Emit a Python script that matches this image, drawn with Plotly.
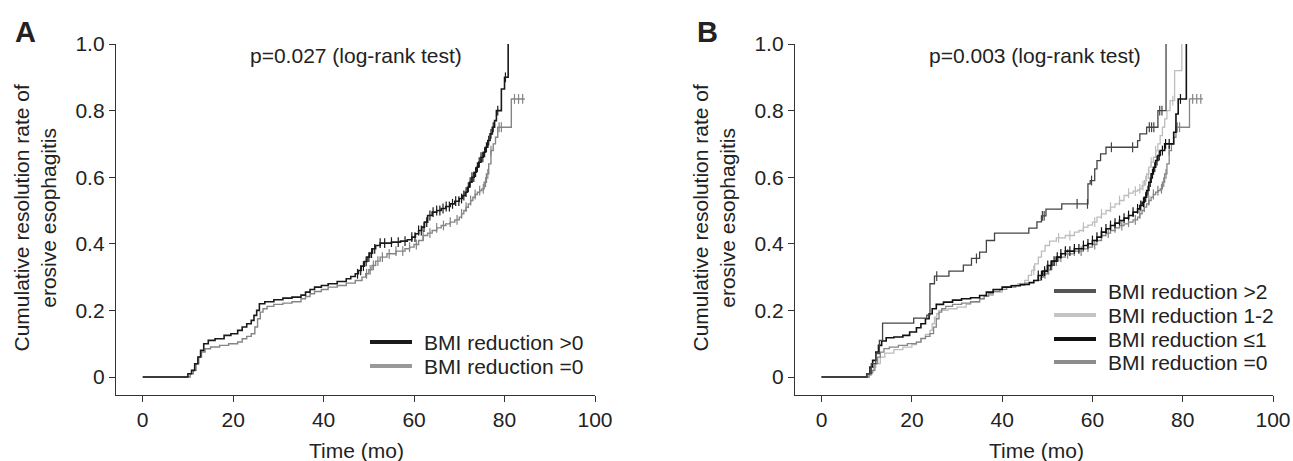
import numpy as np
import plotly.graph_objects as go

# ---------------- data ----------------
x_ticks = [0, 20, 40, 60, 80, 100]
y_ticks = [0, 0.2, 0.4, 0.6, 0.8, 1.0]
y_tick_text = ["0", "0.2", "0.4", "0.6", "0.8", "1.0"]

# Panel A: BMI reduction >0
a_pos_t = [0, 9, 10, 10.8, 11.5, 12.2, 12.8, 13.5, 14.5, 16,
           18, 19.5, 21, 22, 23, 24, 24.6, 25.2, 25.8, 27,
           29, 31, 33, 35, 36, 37, 38, 39.5, 41, 43,
           45, 46, 47, 47.7, 48.3, 49, 49.6, 50.2, 50.8, 51.5,
           52.5, 55, 57, 58.5, 59.5, 60.3, 61, 61.7, 62.3, 63,
           64, 65, 66, 67, 68, 69, 70, 70.7, 71.3, 71.8,
           72.3, 72.8, 73.3, 73.8, 74.3, 74.8, 75.3, 75.8, 76.3, 76.8,
           77.3, 77.8, 78.2, 78.8, 79.3, 80, 80.8]
a_pos_v = [0, 0, 0.01, 0.02, 0.04, 0.06, 0.08, 0.1, 0.11, 0.115,
           0.125, 0.13, 0.14, 0.15, 0.16, 0.17, 0.185, 0.2, 0.22, 0.226,
           0.232, 0.237, 0.24, 0.246, 0.255, 0.263, 0.27, 0.275, 0.28, 0.287,
           0.295, 0.302, 0.31, 0.32, 0.333, 0.347, 0.36, 0.372, 0.385, 0.395,
           0.402, 0.405, 0.408, 0.412, 0.42, 0.43, 0.44, 0.45, 0.465, 0.485,
           0.495, 0.5, 0.506, 0.512, 0.52, 0.528, 0.536, 0.545, 0.555, 0.57,
           0.585, 0.6, 0.615, 0.63, 0.645, 0.66, 0.675, 0.69, 0.71, 0.73,
           0.75, 0.77, 0.8, 0.8, 0.865, 0.9, 1.0]
a_pos_cens = [47.5, 48.2, 48.8, 49.4, 50, 50.6, 51.3, 52.5, 53.5, 55, 56.5, 58,
              59.5, 60.2, 61, 61.6, 62.2, 62.8, 63.5, 64.2, 65, 65.7, 66.4, 67.1,
              67.8, 68.5, 69.2, 69.9, 70.5, 71, 71.5, 72, 72.4, 72.8, 73.2, 73.6,
              74, 74.4, 74.8, 75.2, 75.6, 76, 76.5, 77, 77.5, 78.5, 80.2]

# BMI reduction =0 (same group in both panels)
zero_t = [0, 9.5, 10.5, 11.2, 11.8, 12.4, 13, 13.8, 15, 17,
          19, 21, 22, 23, 24, 24.8, 25.4, 26, 26.6, 27.5,
          29, 31, 33, 35, 36, 37, 38, 39.5, 41, 43,
          45, 47, 48.5, 49.3, 50, 50.7, 51.5, 52.5, 54, 56,
          58, 59, 60, 61, 62, 63, 64, 65, 66, 67,
          68, 69, 70, 70.5, 71, 71.5, 72, 72.5, 73, 73.5,
          74, 74.5, 75, 75.5, 76, 76.5, 77, 77.5, 78, 78.5,
          81.5, 84.5]
zero_v = [0, 0, 0.01, 0.02, 0.04, 0.06, 0.075, 0.085, 0.09, 0.095,
          0.1, 0.105, 0.115, 0.122, 0.13, 0.15, 0.175, 0.195, 0.205, 0.212,
          0.218, 0.222, 0.226, 0.235, 0.242, 0.25, 0.257, 0.263, 0.27, 0.275,
          0.282, 0.29, 0.3, 0.31, 0.322, 0.335, 0.348, 0.36, 0.37, 0.378,
          0.385, 0.39, 0.398, 0.41, 0.425, 0.432, 0.44, 0.448, 0.455, 0.46,
          0.465, 0.472, 0.48, 0.49, 0.5, 0.51, 0.52, 0.53, 0.54, 0.548,
          0.555, 0.56, 0.565, 0.585, 0.61, 0.64, 0.68, 0.70, 0.72, 0.75,
          0.835, 0.835]
zero_cens = [49.5, 50.3, 51, 52, 53, 54.5, 56, 57.5, 59, 60.5, 62, 63.5, 65,
             66.5, 68, 69.5, 70.5, 71.5, 72.5, 73.5, 74.5, 75.3, 75.8, 76.3, 77,
             78.8, 79.3, 82.2, 83.1, 84]

# Panel B: BMI reduction >2
b_gt2_t = [0, 9, 10, 11, 12, 12.8, 13.5, 20.4, 23.3, 24,
           25, 28.2, 31.4, 33.2, 35, 36.5, 38.3, 45.9, 47.7, 48.7,
           49.7, 53.2, 59, 59.5, 60.5, 61, 61.8, 63, 70, 70.5,
           72, 74.5, 76.3]
b_gt2_v = [0, 0, 0.01, 0.04, 0.07, 0.11, 0.162, 0.177, 0.186, 0.28,
           0.303, 0.318, 0.336, 0.356, 0.375, 0.41, 0.432, 0.447, 0.466, 0.484,
           0.504, 0.52, 0.58, 0.59, 0.625, 0.65, 0.67, 0.69, 0.71, 0.73,
           0.75, 0.80, 1.0]
b_gt2_cens = [25.5, 34.3, 48.9, 49.3, 56.6, 58.9, 59.8, 64.2, 68.9, 72.6,
              73.1, 73.6, 74.9, 75.4]

# Panel B: BMI reduction 1-2
b_12_t = [0, 10, 10.5, 11, 11.5, 12, 13, 14, 16, 18,
          20, 21, 22, 23, 24, 24.5, 25, 25.5, 26, 28,
          30, 32, 33, 35, 36, 38, 40, 42, 43.5, 45,
          45.8, 46.5, 47.2, 48, 48.7, 49.5, 50.5, 52, 54, 56,
          57, 58, 59, 60, 61, 62, 63, 64, 65, 66,
          67, 68, 69, 70, 70.5, 71, 71.5, 72, 72.5, 73,
          73.5, 74, 74.5, 75, 75.5, 76, 76.5, 77.2, 78.2, 79.8]
b_12_v = [0, 0, 0.005, 0.015, 0.03, 0.04, 0.06, 0.072, 0.082, 0.09,
          0.097, 0.105, 0.117, 0.128, 0.14, 0.16, 0.18, 0.19, 0.2, 0.205,
          0.21, 0.218, 0.225, 0.235, 0.245, 0.255, 0.27, 0.275, 0.28, 0.29,
          0.305, 0.32, 0.34, 0.36, 0.378, 0.395, 0.408, 0.418, 0.425, 0.435,
          0.44, 0.45, 0.456, 0.465, 0.48, 0.49, 0.5, 0.51, 0.52, 0.53,
          0.545, 0.552, 0.558, 0.562, 0.565, 0.575, 0.59, 0.61, 0.63, 0.645,
          0.66, 0.68, 0.7, 0.725, 0.75, 0.775, 0.8, 0.83, 0.92, 1.0]
b_12_cens = [47, 52.5, 55, 58, 60.5, 62, 64, 66, 68, 69.5, 70.5, 71.2, 71.8,
             72.4, 73, 74, 77.8]

# Panel B: BMI reduction <=1
b_le1_t = [0, 9, 10, 10.7, 11.3, 12, 12.6, 13.3, 14.3, 16,
           18, 19.5, 21, 22, 23, 23.8, 24.5, 25.4, 27, 29,
           31, 33, 35, 36.5, 38, 40, 42, 44, 46, 47,
           48, 49, 50, 51, 52, 53, 54, 56, 58, 59,
           60, 61, 62, 63, 64, 65, 66, 67, 68, 69,
           70, 70.5, 71, 71.5, 72, 72.5, 73, 73.5, 74, 74.5,
           75, 76, 77.5, 78, 78.5, 79, 80.8]
b_le1_v = [0, 0, 0.01, 0.03, 0.05, 0.075, 0.095, 0.108, 0.118, 0.12,
           0.125, 0.135, 0.148, 0.16, 0.175, 0.19, 0.205, 0.218, 0.225, 0.231,
           0.235, 0.238, 0.245, 0.255, 0.263, 0.27, 0.274, 0.278, 0.284, 0.29,
           0.305, 0.318, 0.335, 0.348, 0.36, 0.37, 0.378, 0.385, 0.395, 0.4,
           0.41, 0.42, 0.435, 0.445, 0.455, 0.462, 0.47, 0.477, 0.485, 0.495,
           0.505, 0.515, 0.525, 0.54, 0.56, 0.585, 0.61, 0.63, 0.65, 0.665,
           0.68, 0.70, 0.70, 0.735, 0.79, 0.835, 1.0]
b_le1_cens = [48, 48.7, 49.4, 50.1, 50.8, 51.5, 52.2, 53, 54, 55, 56, 57, 58,
              59, 60, 61, 62, 63, 64, 65, 66, 67, 68, 69, 70, 70.7, 71.3, 71.8,
              72.3, 72.8, 73.3, 73.8, 74.3, 74.8, 75.5, 76.2, 77, 79.5]

labels_a = ["BMI reduction >0", "BMI reduction =0"]
labels_b = ["BMI reduction >2", "BMI reduction 1-2", "BMI reduction \u22641", "BMI reduction =0"]
p_texts = ["p=0.027 (log-rank test)", "p=0.003 (log-rank test)"]
panel_letters = ["A", "B"]

# ---------------- figure ----------------
W, H = 1293, 461
TOP, BOT = 44, 395  # pixel rows of the plot area
FONT = "Liberation Sans, Arial, sans-serif"
TXT = "#222222"
fig = go.Figure()


def step_at(ts, vs, c):
    ts = np.asarray(ts, float)
    vs = np.asarray(vs, float)
    idx = np.searchsorted(ts, np.asarray(c, float), side="right") - 1
    return vs[np.clip(idx, 0, len(vs) - 1)]


def add_curve(ts, vs, cens, color, width, xa, ya):
    fig.add_trace(go.Scatter(x=ts, y=vs, mode="lines", line=dict(color=color, width=width, shape="hv"),
                             xaxis=xa, yaxis=ya, showlegend=False, hoverinfo="skip"))
    fig.add_trace(go.Scatter(x=cens, y=step_at(ts, vs, cens), mode="markers",
                             marker=dict(symbol="line-ns-open", size=7, color=color,
                                         line=dict(color=color, width=1.2)),
                             xaxis=xa, yaxis=ya, showlegend=False, hoverinfo="skip"))


C_BLACK = "#1a1a1a"
C_ZERO = "#858585"
C_GT2 = "#444444"
C_12 = "#bdbdbd"
C_LE1 = "#111111"

# Panel A
add_curve(zero_t, zero_v, zero_cens, C_ZERO, 1.4, "x", "y")
add_curve(a_pos_t, a_pos_v, a_pos_cens, C_BLACK, 1.6, "x", "y")
# Panel B
add_curve(b_12_t, b_12_v, b_12_cens, C_12, 1.3, "x2", "y2")
add_curve(zero_t, zero_v, zero_cens, C_ZERO, 1.3, "x2", "y2")
add_curve(b_le1_t, b_le1_v, b_le1_cens, C_LE1, 1.6, "x2", "y2")
add_curve(b_gt2_t, b_gt2_v, b_gt2_cens, C_GT2, 1.3, "x2", "y2")

axis_common = dict(showline=True, linecolor="#333333", linewidth=1.3, ticks="outside",
                   ticklen=6, tickwidth=1.3, tickcolor="#333333", showgrid=False, zeroline=False,
                   tickfont=dict(family=FONT, size=21, color=TXT))
xr = [-5.9, 100]
yr = [-0.054, 1.0]
fig.update_layout(
    xaxis=dict(domain=[116 / W, 595 / W], range=xr, tickvals=x_ticks, anchor="y", **axis_common),
    yaxis=dict(domain=[0, 1], range=yr, tickvals=y_ticks, ticktext=y_tick_text, anchor="x", **axis_common),
    xaxis2=dict(domain=[795 / W, 1273 / W], range=xr, tickvals=x_ticks, anchor="y2", **axis_common),
    yaxis2=dict(domain=[0, 1], range=yr, tickvals=y_ticks, ticktext=y_tick_text, anchor="x2", **axis_common),
    width=W, height=H, margin=dict(l=0, r=0, t=TOP, b=H - BOT, autoexpand=False),
    paper_bgcolor="white", plot_bgcolor="white", showlegend=False,
    font=dict(family=FONT, size=21, color=TXT),
)


def px(x):
    return x / W


def py(y):
    return (BOT - y) / (BOT - TOP)


def text_ann(x, y, text, size=21, xanchor="center", angle=0):
    return dict(x=px(x), y=py(y), xref="paper", yref="paper", text=text, showarrow=False,
                xanchor=xanchor, yanchor="middle", textangle=angle,
                font=dict(family=FONT, size=size, color=TXT))


ann = []
shapes = []
for i, off in enumerate([0, 679]):
    ann.append(text_ann(25 + off + (0 if i == 0 else 3), 32, "<b>%s</b>" % panel_letters[i], size=29))
    ann.append(text_ann(356 + off, 55, p_texts[i]))
    ann.append(text_ann(357 + off, 450, "Time (mo)"))
    ann.append(text_ann(34.5 + off, 218, "Cumulative resolution rate of<br>erosive esophagitis", angle=-90))

# legends
leg_a = [(labels_a[0], C_BLACK, 342), (labels_a[1], "#999999", 366)]
for lab, col, yy in leg_a:
    shapes.append(dict(type="line", xref="paper", yref="paper", x0=px(370), x1=px(412),
                       y0=py(yy), y1=py(yy), line=dict(color=col, width=4)))
    ann.append(text_ann(422, yy, lab, xanchor="left"))
leg_b = [(labels_b[0], "#555555", 291), (labels_b[1], "#c4c4c4", 315),
         (labels_b[2], C_LE1, 339), (labels_b[3], "#8c8c8c", 362)]
for lab, col, yy in leg_b:
    shapes.append(dict(type="line", xref="paper", yref="paper", x0=px(1054), x1=px(1096),
                       y0=py(yy), y1=py(yy), line=dict(color=col, width=4)))
    ann.append(text_ann(1106, yy, lab, xanchor="left"))

fig.update_layout(annotations=ann, shapes=shapes)
fig.write_html("out.html", config={"displayModeBar": False},
               post_script="document.body.style.margin='0';document.body.style.overflow='hidden';")
